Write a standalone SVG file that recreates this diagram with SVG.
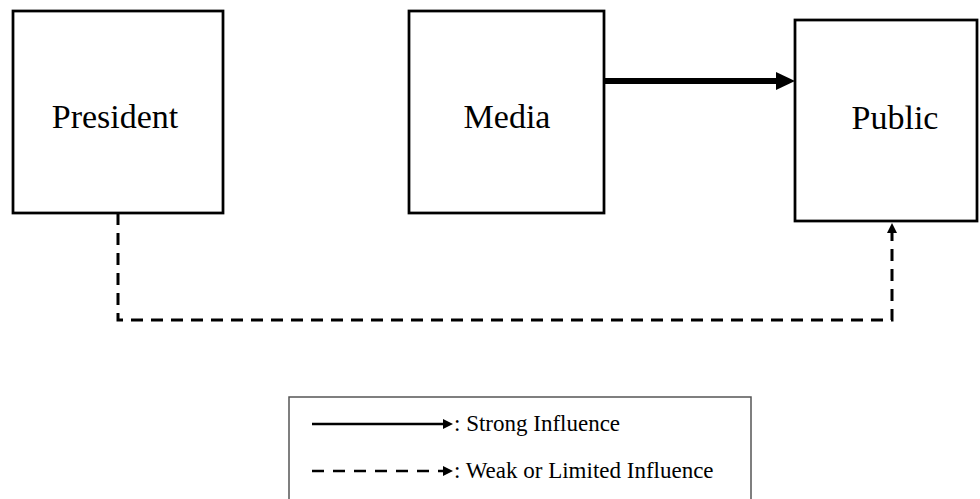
<svg xmlns="http://www.w3.org/2000/svg" width="980" height="499" viewBox="0 0 980 499">
  <style>
    .box { fill: #ffffff; stroke: #000000; stroke-width: 2.75; }
    .label { font-family: "Liberation Serif", "Times New Roman", serif; font-size: 34px; fill: #000000; text-anchor: middle; }
    .strong { stroke: #000000; stroke-width: 6; fill: none; }
    .weak { stroke: #000000; stroke-width: 3; fill: none; stroke-dasharray: 12 8; }
    .key-solid { stroke: #000000; stroke-width: 2.5; fill: none; }
    .key-dash { stroke: #000000; stroke-width: 2.5; fill: none; stroke-dasharray: 12 9; }
    .key-text { font-family: "Liberation Serif", "Times New Roman", serif; font-size: 23px; fill: #000000; }
  </style>
  <defs>
    <marker id="head-big" markerUnits="userSpaceOnUse" markerWidth="19" markerHeight="18" refX="4" refY="9" orient="auto">
      <path d="M0,0 L19,9 L0,18 Z" fill="#000000"/>
    </marker>
    <marker id="head-small" markerUnits="userSpaceOnUse" markerWidth="10" markerHeight="10" refX="0" refY="5" orient="auto">
      <path d="M0,0 L10,5 L0,10 Z" fill="#000000"/>
    </marker>
  </defs>

  <rect width="980" height="499" fill="#ffffff"/>

  <g id="president">
    <rect class="box" x="13" y="11" width="210" height="202"/>
    <text class="label" x="115" y="128">President</text>
  </g>

  <g id="media">
    <rect class="box" x="409" y="11" width="195" height="202"/>
    <text class="label" x="507" y="128">Media</text>
  </g>

  <g id="public">
    <rect class="box" x="795" y="20" width="182" height="201"/>
    <text class="label" x="895" y="129">Public</text>
  </g>

  <g id="connectors">
    <line class="strong" x1="604" y1="81" x2="780" y2="81" marker-end="url(#head-big)"/>
    <path class="weak" d="M118,213 V320 H892 V233" marker-end="url(#head-small)"/>
  </g>

  <g id="legend">
    <rect x="289" y="397" width="462" height="110" fill="#ffffff" stroke="#555555" stroke-width="1.5"/>
    <line class="key-solid" x1="312" y1="424" x2="443" y2="424" marker-end="url(#head-small)"/>
    <text class="key-text" x="454" y="431">: Strong Influence</text>
    <line class="key-dash" x1="312" y1="471" x2="443" y2="471" marker-end="url(#head-small)"/>
    <text class="key-text" x="454" y="478">: Weak or Limited Influence</text>
  </g>
</svg>
